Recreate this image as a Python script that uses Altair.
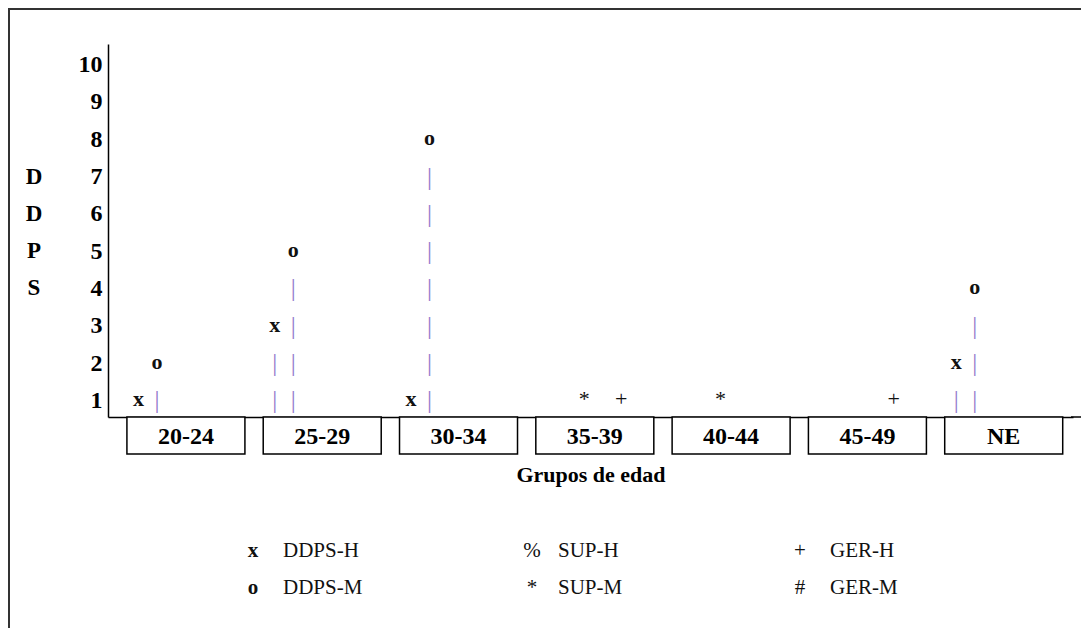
import altair as alt
import pandas as pd

# ---- data ----
categories = ["20-24", "25-29", "30-34", "35-39", "40-44", "45-49", "NE"]
series = ["DDPS-H", "DDPS-M", "SUP-H", "SUP-M", "GER-H", "GER-M"]
symbols = ["x", "o", "%", "*", "+", "#"]
ddps_h = [1, 3, 1, 0, 0, 0, 2]
ddps_m = [2, 5, 8, 0, 0, 0, 4]
sup_h = [0, 0, 0, 0, 0, 0, 0]
sup_m = [0, 0, 0, 1, 1, 0, 0]
ger_h = [0, 0, 0, 1, 0, 1, 0]
ger_m = [0, 0, 0, 0, 0, 0, 0]
y_ticks = list(range(1, 11))
y_title_letters = ["D", "D", "P", "S"]
y_title_levels = [7, 6, 5, 4]
x_title = "Grupos de edad"
slot_order = ["DDPS-H", "DDPS-M", "SUP-M", "SUP-H", "GER-H", "GER-M"]
bold_symbols = ["x", "o"]

values = dict(zip(series, [ddps_h, ddps_m, sup_h, sup_m, ger_h, ger_m]))
sym_of = dict(zip(series, symbols))

# symbol at the value, stem characters below it
rows = []
for s in series:
    for c, v in zip(categories, values[s]):
        if v > 0:
            sym = sym_of[s]
            rows.append({"cat": c, "series": s, "lvl": v, "ch": sym, "kind": "sym",
                         "bold": 1 if sym in bold_symbols else 0})
            for k in range(1, v):
                rows.append({"cat": c, "series": s, "lvl": k, "ch": "|", "kind": "stem", "bold": 0})
marks = pd.DataFrame(rows)
cat_df = pd.DataFrame({"cat": categories})
ytitle_df = pd.DataFrame({"ch": y_title_letters, "lvl": y_title_levels})

W, H = 965, 373
SERIF = "Liberation Serif"
SLOT = 19.0               # width of each sub-slot within an age group
HALF_SLOT = SLOT / 2
X_PAD_IN, X_PAD_OUT = 0.1636, 0.1218
X_STEP = W / (len(categories) - X_PAD_IN + 2 * X_PAD_OUT)
OFF_PAD_OUT = (X_STEP / SLOT - len(slot_order)) / 2

x_enc = alt.X(
    "cat:N",
    scale=alt.Scale(domain=categories, paddingInner=X_PAD_IN, paddingOuter=X_PAD_OUT, align=0.63),
    axis=alt.Axis(labels=False, ticks=False, grid=False, domain=True, domainColor="#000",
                  domainWidth=1.5, title=x_title, titleFont=SERIF, titleFontSize=22,
                  titleFontWeight="bold", titleColor="#000", titlePadding=47),
)
y_enc = alt.Y(
    "lvl:Q",
    scale=alt.Scale(domain=[0.5, 10.5], nice=False, zero=False),
    axis=alt.Axis(values=y_ticks, labelFont=SERIF, labelFontWeight="bold", labelFontSize=24,
                  labelColor="#000", labelPadding=6, labelOffset=2, ticks=False, grid=False,
                  domainColor="#000", domainWidth=1.5, title=None),
)
xoff = alt.XOffset("series:N", scale=alt.Scale(domain=slot_order, paddingInner=0,
                                               paddingOuter=OFF_PAD_OUT, align=0))

frame = alt.Chart(pd.DataFrame({"a": [0]})).mark_rect(
    fillOpacity=0, stroke="#333", strokeWidth=2
).encode(x=alt.value(-99), x2=alt.value(W + 300), y=alt.value(-35), y2=alt.value(H + 400))

axis_ext = alt.Chart(pd.DataFrame({"a": [0]})).mark_rule(color="#000", strokeWidth=1.5).encode(
    x=alt.value(W - 2), x2=alt.value(W + 10), y=alt.value(H)
)

boxes = alt.Chart(cat_df).mark_bar(size=118, fill="white", stroke="#000", strokeWidth=1.5).encode(
    x=x_enc, y=alt.value(H), y2=alt.value(H + 37)
)
box_text = alt.Chart(cat_df).mark_text(
    font=SERIF, fontSize=24, fontWeight="bold", color="#000", baseline="middle", dy=1
).encode(x=x_enc, y=alt.value(H + 19), text="cat:N")

stems = alt.Chart(marks).transform_filter(alt.datum.kind == "stem").mark_text(
    font=SERIF, fontSize=25, color="#9277cc", baseline="middle", dx=HALF_SLOT, dy=2
).encode(x=x_enc, xOffset=xoff, y=y_enc, text="ch:N")

sym_bold = alt.Chart(marks).transform_filter(
    (alt.datum.kind == "sym") & (alt.datum.bold == 1)
).mark_text(font=SERIF, fontSize=22, fontWeight="bold", color="#111", baseline="middle",
            dx=HALF_SLOT, dy=1).encode(
    x=x_enc, xOffset=xoff, y=y_enc, text="ch:N"
)
sym_reg = alt.Chart(marks).transform_filter(
    (alt.datum.kind == "sym") & (alt.datum.bold == 0)
).mark_text(font=SERIF, fontSize=22, color="#111", baseline="middle", dx=HALF_SLOT, dy=1).encode(
    x=x_enc, xOffset=xoff, y=y_enc, text="ch:N"
)

ytitle = alt.Chart(ytitle_df).mark_text(
    font=SERIF, fontSize=23, fontWeight="bold", color="#000", baseline="middle", dy=2
).encode(x=alt.value(-74), y=y_enc, text="ch:N")

# legend (layout positions only)
leg_sym_x = [145, 424, 692]
leg_lab_x = [175, 450, 722]
leg_row_y = [507, 544]
legend_layers = []
for i, (s, sym) in enumerate(zip(series, symbols)):
    col, row = i // 2, i % 2
    one = pd.DataFrame({"s": [s], "sym": [sym]})
    legend_layers.append(
        alt.Chart(one).mark_text(
            font=SERIF, fontSize=21, fontWeight="bold" if sym in bold_symbols else "normal",
            color="#111", baseline="middle", align="center"
        ).encode(x=alt.value(leg_sym_x[col]), y=alt.value(leg_row_y[row]), text="sym:N")
    )
    legend_layers.append(
        alt.Chart(one).mark_text(
            font=SERIF, fontSize=21, color="#111", baseline="middle", align="left"
        ).encode(x=alt.value(leg_lab_x[col]), y=alt.value(leg_row_y[row]), text="s:N")
    )

chart = alt.layer(frame, axis_ext, boxes, box_text, stems, sym_bold, sym_reg, ytitle,
                  *legend_layers).properties(
    width=W, height=H,
    padding={"left": 100, "top": 36, "right": 8, "bottom": 211},
    autosize=alt.AutoSizeParams(type="none"),
).configure_view(stroke=None)

chart.save("out.html", embed_options={"renderer": "svg", "actions": False})
